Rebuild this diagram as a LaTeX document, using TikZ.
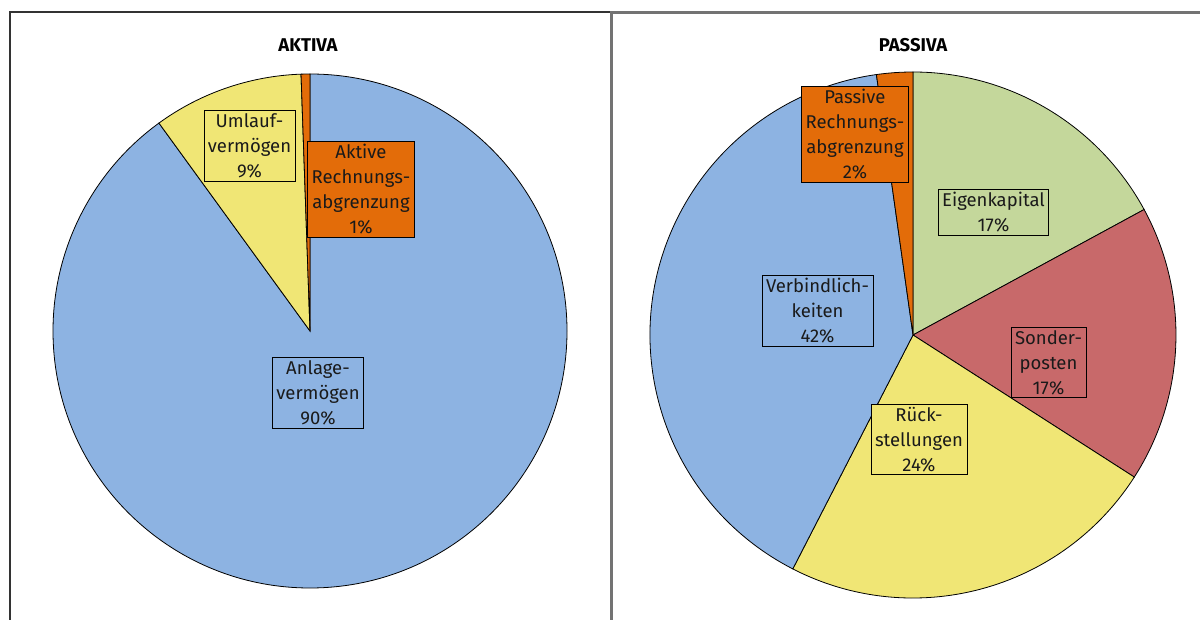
\documentclass[tikz,border=0pt]{standalone}
\usepackage{fontspec}
\setmainfont{Fira Sans}
\usepackage{tikz}
\usetikzlibrary{positioning}
\definecolor{Bil_Blue}{HTML}{8DB3E2}
\definecolor{Bil_Yellow}{HTML}{F0E675}
\definecolor{Bil_Orange}{HTML}{E36C09}
\definecolor{Bil_Green}{HTML}{C4D79B}
\definecolor{Bil_Red}{HTML}{C8696A}
\definecolor{Bil_Text}{HTML}{1A1A1A}

\begin{document}
\begin{tikzpicture}[
  x=1pt, y=1pt,
  every node/.style={font=\fontsize{18.5}{25}\selectfont},
  slice/.style={draw=black, line width=0.8pt},
  lbl/.style={draw=black, line width=0.8pt, align=center, text=Bil_Text,
    inner xsep=4pt, inner ysep=3pt},
  ttl/.style={font=\fontsize{18.5}{20}\selectfont\bfseries, text=black}
]
  \useasboundingbox (0,0) rectangle (1200,619);

  % Chart frames
  \draw[black!80, line width=1.2pt] (10,-2) -- (10,607) -- (610,607);
  \draw[black!55, line width=3pt] (611,-2) -- (611,606) -- (1202,606);

  % Titles
  \node[ttl] (aktiva) at (308,574) {AKTIVA};
  \node[ttl] (passiva) at (913,574) {PASSIVA};

  % Aktiva pie (clockwise from 12 o'clock)
  \coordinate (akt) at (310,288);
  \filldraw[slice, fill=Bil_Blue] (akt) -- ++(90:257)
    arc[start angle=90, end angle=-234, radius=257] -- cycle;
  \filldraw[slice, fill=Bil_Yellow] (akt) -- ++(126:257)
    arc[start angle=126, end angle=92, radius=257] -- cycle;
  \filldraw[slice, fill=Bil_Orange] (akt) -- ++(92:257)
    arc[start angle=92, end angle=90, radius=257] -- cycle;

  % Passiva pie (clockwise from 12 o'clock)
  \coordinate (pas) at (913,284);
  \filldraw[slice, fill=Bil_Green] (pas) -- ++(90:263)
    arc[start angle=90, end angle=28.5, radius=263] -- cycle;
  \filldraw[slice, fill=Bil_Red] (pas) -- ++(28.5:263)
    arc[start angle=28.5, end angle=-32.7, radius=263] -- cycle;
  \filldraw[slice, fill=Bil_Yellow] (pas) -- ++(-32.7:263)
    arc[start angle=-32.7, end angle=-117.2, radius=263] -- cycle;
  \filldraw[slice, fill=Bil_Blue] (pas) -- ++(-117.2:263)
    arc[start angle=-117.2, end angle=-262, radius=263] -- cycle;
  \filldraw[slice, fill=Bil_Orange] (pas) -- ++(98:263)
    arc[start angle=98, end angle=90, radius=263] -- cycle;

  % Aktiva labels
  \node[lbl, fill=Bil_Yellow] (umlauf) at (249.5,473) {Umlauf-\\vermögen\\9\%};
  \node[lbl, fill=Bil_Orange] (arap) at (361,429.5) {Aktive\\Rechnungs-\\abgrenzung\\1\%};
  \node[lbl, fill=Bil_Blue] (anlage) at (318,226) {Anlage-\\vermögen\\90\%};

  % Passiva labels
  \node[lbl, fill=Bil_Orange] (prap) at (855,484.5) {Passive\\Rechnungs-\\abgrenzung\\2\%};
  \node[lbl, fill=Bil_Green] (eigen) at (993.5,407) {Eigenkapital\\17\%};
  \node[lbl, fill=Bil_Blue] (verb) at (817.5,308) {Verbindlich-\\keiten\\42\%};
  \node[lbl, fill=Bil_Red] (sonder) at (1048.5,256.5) {Sonder-\\posten\\17\%};
  \node[lbl, fill=Bil_Yellow] (rueck) at (919,179.5) {Rück-\\stellungen\\24\%};
\end{tikzpicture}
\end{document}
